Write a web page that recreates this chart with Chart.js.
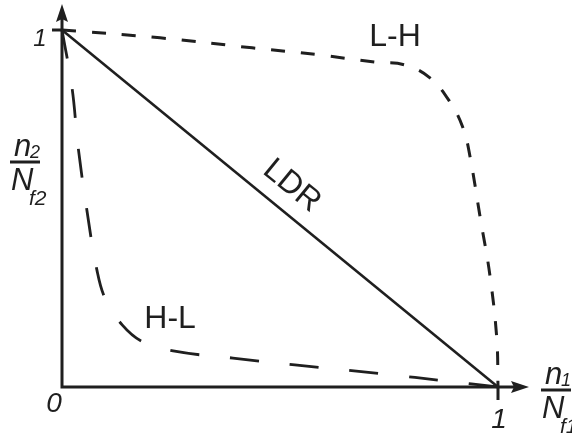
<!DOCTYPE html>
<html lang="en">
<head>
  <meta charset="UTF-8" />
  <title>LDR, L-H and H-L damage curves</title>
  <script src="https://cdn.jsdelivr.net/npm/chart.js"></script>
  <style>
    html, body { margin: 0; padding: 0; background: #fff; }
    canvas { display: block; }
  </style>
</head>
<body>
  <canvas id="damage" width="572" height="439"></canvas>

  <script>
    // cycle ratios n1/Nf1 (x) and n2/Nf2 (y)
    const ldrX = [0, 1];
    const ldrY = [1, 0];

    const lhX = [0, 0.225, 0.436, 0.592, 0.718, 0.787, 0.844, 0.890, 0.920, 0.936, 0.959, 0.982, 0.998, 1];
    const lhY = [1, 0.978, 0.950, 0.930, 0.910, 0.902, 0.866, 0.798, 0.725, 0.644, 0.476, 0.308, 0.123, 0];

    const hlX = [0, 0.023, 0.037, 0.057, 0.080, 0.100, 0.138, 0.183, 0.255, 0.392, 0.534, 0.741, 0.878, 1];
    const hlY = [1, 0.838, 0.672, 0.496, 0.328, 0.245, 0.174, 0.128, 0.101, 0.081, 0.062, 0.036, 0.017, 0];

    const xTicks = ['0', '1'];
    const yTicks = ['0', '1'];

    const ink = '#1f1f1f';
    const pts = (xs, ys) => xs.map((x, i) => ({ x: x, y: ys[i] }));

    // axes with arrow heads, ticks and all the text
    const axesPlugin = {
      id: 'axes',
      beforeDatasetsDraw(chart) {
        const { ctx, scales: { x, y } } = chart;
        const x0 = x.getPixelForValue(0), x1 = x.getPixelForValue(1);
        const y0 = y.getPixelForValue(0), y1 = y.getPixelForValue(1);
        ctx.save();
        ctx.strokeStyle = ink;
        ctx.fillStyle = ink;
        ctx.lineWidth = 3;
        ctx.beginPath();
        ctx.moveTo(x0, y0);
        ctx.lineTo(x0, 14);
        ctx.moveTo(x0 - 1.5, y0);
        ctx.lineTo(518, y0);
        // tick marks at 1
        ctx.moveTo(x0 - 10, y1);
        ctx.lineTo(x0, y1);
        ctx.moveTo(x1, y0);
        ctx.lineTo(x1, y0 + 13);
        ctx.stroke();

        // arrow heads
        ctx.beginPath();
        ctx.moveTo(x0, 4);
        ctx.lineTo(x0 - 6, 22);
        ctx.lineTo(x0, 19);
        ctx.lineTo(x0 + 6, 22);
        ctx.closePath();
        ctx.fill();
        ctx.beginPath();
        ctx.moveTo(529, y0);
        ctx.lineTo(511, y0 - 6);
        ctx.lineTo(514, y0);
        ctx.lineTo(511, y0 + 6);
        ctx.closePath();
        ctx.fill();
        ctx.restore();
      },
      afterDraw(chart) {
        const { ctx, scales: { x, y } } = chart;
        const x0 = x.getPixelForValue(0), x1 = x.getPixelForValue(1);
        const y0 = y.getPixelForValue(0), y1 = y.getPixelForValue(1);
        const face = '"Liberation Sans", Arial, sans-serif';
        ctx.save();
        ctx.fillStyle = ink;
        ctx.textAlign = 'center';
        ctx.textBaseline = 'alphabetic';

        // tick labels
        ctx.font = 'italic 24px ' + face;
        ctx.fillText(yTicks[1], x0 - 22, y1 + 16);
        ctx.font = 'italic 28px ' + face;
        ctx.fillText(xTicks[0], x0 - 8, y0 + 25);
        ctx.fillText(xTicks[1], x1 + 1, y0 + 41);

        // curve names
        ctx.font = '32px ' + face;
        ctx.fillText('L-H', x.getPixelForValue(0.764), y.getPixelForValue(0.989) + 12);
        ctx.fillText('H-L', x.getPixelForValue(0.248), y.getPixelForValue(0.199) + 12);
        ctx.save();
        ctx.translate(x.getPixelForValue(0.527), y.getPixelForValue(0.563));
        ctx.rotate(Math.atan2(y0 - y1, x1 - x0));
        ctx.textBaseline = 'middle';
        ctx.fillText('LDR', 0, 0);
        ctx.restore();

        // axis titles as fractions
        const fraction = (cx, lineY, num, numSub, den, denSub) => {
          ctx.lineWidth = 3;
          ctx.strokeStyle = ink;
          ctx.beginPath();
          ctx.moveTo(cx - 15, lineY);
          ctx.lineTo(cx + 15, lineY);
          ctx.stroke();
          ctx.textAlign = 'left';
          ctx.font = 'italic 31px ' + face;
          ctx.fillText(num, cx - 11, lineY - 6);
          ctx.font = 'italic 18px ' + face;
          ctx.fillText(numSub, cx + 5, lineY - 4);
          ctx.font = 'italic 31px ' + face;
          ctx.fillText(den, cx - 14, lineY + 28);
          ctx.font = 'italic 21px ' + face;
          ctx.fillText(denSub, cx + 4, lineY + 43);
        };
        fraction(25, 162, 'n', '2', 'N', 'f2');
        fraction(556, 390, 'n', '1', 'N', 'f1');
        ctx.restore();
      }
    };

    new Chart(document.getElementById('damage'), {
      type: 'scatter',
      data: {
        datasets: [
          {
            label: 'LDR',
            data: pts(ldrX, ldrY),
            showLine: true,
            borderColor: ink,
            borderWidth: 2.6,
            pointRadius: 0,
            clip: false
          },
          {
            label: 'L-H',
            data: pts(lhX, lhY),
            showLine: true,
            borderColor: ink,
            borderWidth: 3,
            borderDash: [14, 16],
            tension: 0.4,
            pointRadius: 0,
            clip: false
          },
          {
            label: 'H-L',
            data: pts(hlX, hlY),
            showLine: true,
            borderColor: ink,
            borderWidth: 2.8,
            borderDash: [29, 31],
            tension: 0.4,
            pointRadius: 0,
            clip: false
          }
        ]
      },
      options: {
        responsive: false,
        animation: false,
        devicePixelRatio: 1,
        layout: { padding: { left: 62, right: 74, top: 30, bottom: 52 } },
        plugins: {
          legend: { display: false },
          tooltip: { enabled: false }
        },
        scales: {
          x: { type: 'linear', min: 0, max: 1, display: false },
          y: { type: 'linear', min: 0, max: 1, display: false }
        }
      },
      plugins: [axesPlugin]
    });
  </script>
</body>
</html>
